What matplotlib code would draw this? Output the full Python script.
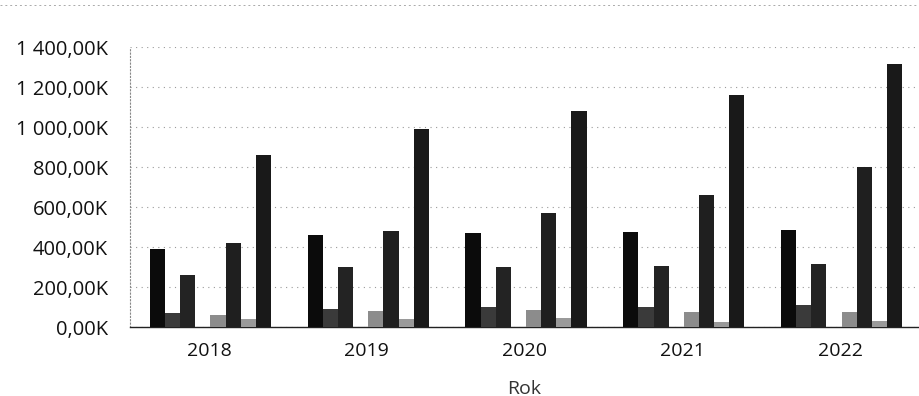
import matplotlib

matplotlib.use("Agg")
import matplotlib.pyplot as plt
import numpy as np

plt.rcParams["font.family"] = ["Open Sans", "DejaVu Sans"]

years = ["2018", "2019", "2020", "2021", "2022"]

# values in thousands (8 bars per year, 4th is empty)
s1 = [390, 460, 470, 475, 485]
s2 = [70, 90, 100, 100, 110]
s3 = [258, 300, 300, 305, 315]
s4 = [0, 0, 0, 0, 0]
s5 = [60, 80, 85, 75, 75]
s6 = [420, 480, 570, 660, 800]
s7 = [40, 40, 45, 25, 30]
s8 = [860, 990, 1080, 1160, 1315]
series = [s1, s2, s3, s4, s5, s6, s7, s8]
colors = ["#0b0b0b", "#3a3a3a", "#232323", "#ffffff", "#8c8c8c", "#1f1f1f", "#9a9a9a", "#191919"]

yticks = [0, 200, 400, 600, 800, 1000, 1200, 1400]
ytick_labels = ["0,00K", "200,00K", "400,00K", "600,00K", "800,00K", "1 000,00K", "1 200,00K", "1 400,00K"]

fig = plt.figure(figsize=(9.19, 3.96), dpi=100)
ax = fig.add_axes([130 / 919, 1 - 327 / 396, 789 / 919, 280 / 396])

x = np.arange(len(years))
w = 0.096
for i, (vals, c) in enumerate(zip(series, colors)):
    ax.bar(x + (i - 3.4) * w, vals, width=w, color=c, linewidth=0, zorder=3)

ax.set_xlim(-0.5, len(years) - 0.5)
ax.set_ylim(0, 1400)
ax.set_yticks(yticks)
ax.set_yticklabels(ytick_labels, fontsize=14.5, color="#111111")
ax.set_xticks(x)
ax.set_xticklabels(years, fontsize=14, color="#111111")
ax.tick_params(length=0)
ax.tick_params(axis="y", pad=16)
ax.tick_params(axis="x", pad=11)
ax.set_xlabel("Rok", fontsize=14, color="#333333", labelpad=14)

ax.grid(axis="y", linestyle=(0, (1, 4)), color="#9a9a9a", linewidth=0.8, zorder=0)
for side in ["top", "right"]:
    ax.spines[side].set_visible(False)
ax.spines["left"].set_color("#888888")
ax.spines["left"].set_linestyle((0, (1, 2)))
ax.spines["left"].set_linewidth(0.8)
ax.spines["bottom"].set_color("#222222")
ax.spines["bottom"].set_linewidth(1.0)

# faint dotted scan border at the top
fig.add_artist(plt.Line2D([0.0, 1.0], [1 - 5 / 396, 1 - 5 / 396], transform=fig.transFigure,
                          color="#aaaaaa", linestyle=(0, (2, 3)), linewidth=0.7))

fig.savefig("out.png", dpi=100)
